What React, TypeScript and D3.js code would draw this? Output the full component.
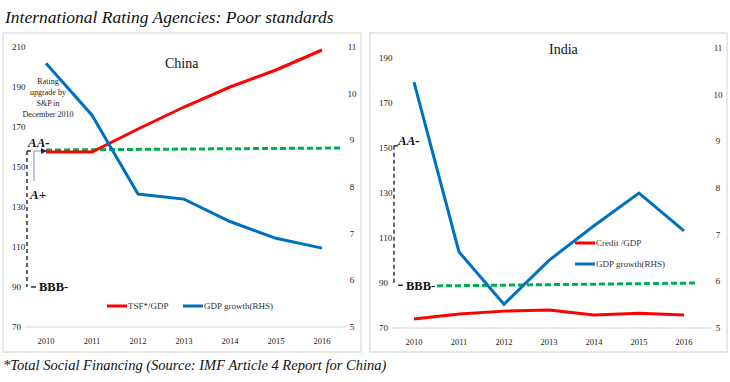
import React from "react";
import * as d3 from "d3";

const years = [2010, 2011, 2012, 2013, 2014, 2015, 2016];
const chinaTSF = [157.5, 157.5, 169, 180, 190, 198.5, 208.5];
const chinaGDP = [10.65, 9.54, 7.85, 7.74, 7.26, 6.9, 6.69];
const chinaRatingLine = [158.5, 159.5];
const indiaCredit = [74, 76.2, 77.5, 78, 75.8, 76.5, 75.8];
const indiaGDP = [10.27, 6.63, 5.51, 6.45, 7.19, 7.89, 7.08];
const indiaRatingLine = [88.7, 90];
const chinaLeftTicks = [70, 90, 110, 130, 150, 170, 190, 210];
const indiaLeftTicks = [70, 90, 110, 130, 150, 170, 190];
const rightTicks = [5, 6, 7, 8, 9, 10, 11];

const RED = "#ff0000";
const BLUE = "#0070c0";
const GREEN = "#00b050";
const SERIF = "'Liberation Serif', 'DejaVu Serif', serif";

type PanelProps = {
  x0: number; x1: number; yTop: number; yBot: number;
  leftDomain: [number, number]; leftTicks: number[];
  rTop: number; border: [number, number];
  leftValues: number[]; rightValues: number[]; ratingLine: number[];
  title: string; titleX: number; titleY: number;
  legend1: string; legend2: string; legendX: [number, number]; legendY: [number, number];
  aa: number; bbb: number; dashX: number; isChina: boolean;
};

function Panel(p: PanelProps) {
  const x = d3.scalePoint<number>().domain(years).range([p.x0, p.x1]);
  const yL = d3.scaleLinear().domain(p.leftDomain).range([p.yBot, p.yTop]);
  const yR = d3.scaleLinear().domain([5, 11]).range([p.yBot, p.rTop]);
  const lineL = d3.line<number>().x((_, i) => x(years[i])!).y((d) => yL(d));
  const lineR = d3.line<number>().x((_, i) => x(years[i])!).y((d) => yR(d));
  const [bx0, bx1] = p.border;
  const gx0 = p.isChina ? x(2010)! : x(2010)! + 23;
  const gx1 = x(2016)! + (p.isChina ? 20 : 14);
  return (
    <g>
      <rect x={bx0} y={33} width={bx1 - bx0} height={319} fill="white" stroke="#d9d9d9" strokeWidth={1.2} />
      <line x1={bx0 + 22} x2={bx1 - 15} y1={p.yBot} y2={p.yBot} stroke="#d9d9d9" strokeWidth={1} />
      {p.leftTicks.map((t) => (
        <text key={"l" + t} x={bx0 + 9} y={yL(t)} dy="0.35em" fontSize={9} fontFamily={SERIF} fill="#222">{t}</text>
      ))}
      {rightTicks.map((t) => (
        <text key={"r" + t} x={bx1 - 9} y={yR(t)} dy="0.35em" fontSize={9} fontFamily={SERIF} fill="#222" textAnchor="middle">{t}</text>
      ))}
      {years.map((yr) => (
        <text key={"x" + yr} x={x(yr)} y={p.yBot + 17} fontSize={8.5} fontFamily={SERIF} textAnchor="middle" fill="#222">{yr}</text>
      ))}
      <text x={p.titleX} y={p.titleY} fontSize={14} fontFamily={SERIF} fill="#111">{p.title}</text>
      {/* rating annotation */}
      <line x1={p.dashX} x2={p.dashX} y1={yL(p.aa)} y2={yL(p.bbb)} stroke="#333" strokeWidth={1.5} strokeDasharray="4,3" />
      <line x1={p.dashX} x2={p.dashX + 4} y1={yL(p.aa)} y2={yL(p.aa)} stroke="#333" strokeWidth={1.5} />
      <line x1={p.dashX + 4} x2={p.dashX + 9} y1={yL(p.bbb)} y2={yL(p.bbb)} stroke="#333" strokeWidth={1.5} />
      <text x={p.dashX + (p.isChina ? 1 : 4)} y={yL(p.aa) - (p.isChina ? 4 : 1)} fontSize={13} fontStyle="italic" fontWeight="bold" fontFamily={SERIF} fill="#111">AA-</text>
      <text x={p.dashX + 12} y={yL(p.bbb)} dy="0.35em" fontSize={12.5} fontWeight="bold" fontFamily={SERIF} fill="#111">BBB-</text>
      {p.isChina && (
        <g>
          <line x1={p.dashX + 7} x2={p.dashX + 7} y1={yL(p.aa)} y2={yL(p.aa) + 30} stroke="#7f8fa9" strokeWidth={1} />
          <line x1={p.dashX + 7} x2={x(2010)!} y1={yL(p.aa)} y2={yL(p.aa)} stroke="#7f8fa9" strokeWidth={1} />
          <path d={`M${x(2010)! - 5},${yL(p.aa) + 3} L${x(2010)! - 5},${yL(p.aa) - 3} L${x(2010)! + 1},${yL(p.aa)} Z`} fill="#1f2a5a" />
          <text x={p.dashX + 3} y={yL(p.aa) + 48} fontSize={13} fontStyle="italic" fontWeight="bold" fontFamily={SERIF} fill="#111">A+</text>
          {["Rating", "upgrade by", "S&P  in", "December 2010"].map((s, i) => (
            <text key={s} x={x(2010)! + 2} y={84 + i * 11} fontSize={8} fontFamily={SERIF} textAnchor="middle" fill="#222">{s}</text>
          ))}
        </g>
      )}
      {/* series */}
      <line x1={gx0} x2={gx1} y1={yL(p.ratingLine[0])} y2={yL(p.ratingLine[1])} stroke={GREEN} strokeWidth={3} strokeDasharray="6,3" />
      <path d={lineL(p.leftValues)!} fill="none" stroke={RED} strokeWidth={3} />
      <path d={lineR(p.rightValues)!} fill="none" stroke={BLUE} strokeWidth={3} />
      {/* legend */}
      <line x1={p.legendX[0]} x2={p.legendX[0] + 20} y1={p.legendY[0]} y2={p.legendY[0]} stroke={RED} strokeWidth={3} />
      <text x={p.legendX[0] + 21} y={p.legendY[0]} dy="0.35em" fontSize={9} fontFamily={SERIF} fill="#333">{p.legend1}</text>
      <line x1={p.legendX[1]} x2={p.legendX[1] + 20} y1={p.legendY[1]} y2={p.legendY[1]} stroke={BLUE} strokeWidth={3} />
      <text x={p.legendX[1] + 21} y={p.legendY[1]} dy="0.35em" fontSize={9} fontFamily={SERIF} fill="#333">{p.legend2}</text>
    </g>
  );
}

export default function App() {
  return (
    <svg width={730} height={382} style={{ position: "absolute", left: 0, top: 0, background: "white" }}>
      <text x={5} y={23} fontSize={17.5} fontStyle="italic" fontFamily={SERIF} fill="#111">International Rating Agencies: Poor standards</text>
      <Panel
        x0={46} x1={322} yTop={47} yBot={327} leftDomain={[70, 210]} leftTicks={chinaLeftTicks}
        rTop={47} border={[3, 361]} leftValues={chinaTSF} rightValues={chinaGDP} ratingLine={chinaRatingLine}
        title="China" titleX={165} titleY={68} legend1="TSF*/GDP" legend2="GDP growth(RHS)"
        legendX={[107, 183]} legendY={[306, 306]} aa={158} bbb={90} dashX={27} isChina={true}
      />
      <Panel
        x0={414} x1={684} yTop={58} yBot={328} leftDomain={[70, 190]} leftTicks={indiaLeftTicks}
        rTop={48} border={[370, 727]} leftValues={indiaCredit} rightValues={indiaGDP} ratingLine={indiaRatingLine}
        title="India" titleX={549} titleY={54} legend1="Credit /GDP" legend2="GDP growth(RHS)"
        legendX={[575, 575]} legendY={[243, 264]} aa={151} bbb={89} dashX={394} isChina={false}
      />
      <text x={3} y={370} fontSize={14.5} fontStyle="italic" fontFamily={SERIF} fill="#111">*Total Social Financing (Source: IMF Article 4 Report for China)</text>
    </svg>
  );
}
